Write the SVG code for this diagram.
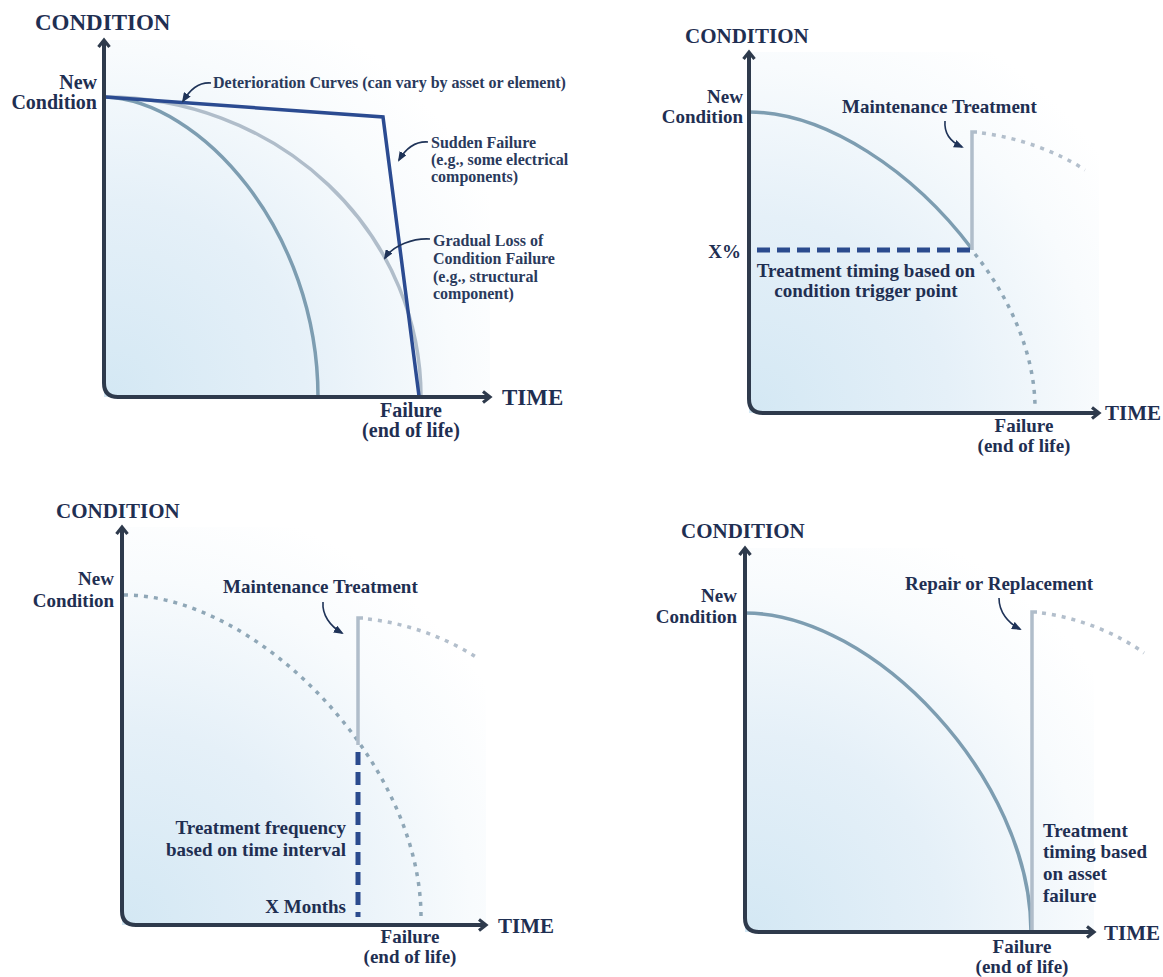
<svg xmlns="http://www.w3.org/2000/svg" width="1163" height="977" viewBox="0 0 1163 977">
  <defs>
    <style>
      text { font-family: 'Liberation Serif', 'Times New Roman', 'DejaVu Serif', serif; font-weight: bold; fill: #1f2f52; }
      .ttl { font-size: 21px; }
      .ttl1 { font-size: 23px; }
      .lbl { font-size: 19px; }
      .lbl1 { font-size: 20px; }
      .sm { font-size: 16px; fill: #2a3a5c; }
      .mid { text-anchor: middle; }
      .end { text-anchor: end; }
      .axis { fill: none; stroke: #2e3a4c; stroke-width: 4; marker-start: url(#chev); marker-end: url(#chev); }
      .curve { fill: none; stroke: #7d9db1; stroke-width: 3.5; }
      .light { fill: none; stroke: #b0bdca; stroke-width: 3.5; }
      .sudden { fill: none; stroke: #2b4b91; stroke-width: 3.5; stroke-linejoin: miter; }
      .dotted { fill: none; stroke: #8fa7b7; stroke-width: 3.5; stroke-dasharray: 4 6; }
      .dotted-l { fill: none; stroke: #b3bfcc; stroke-width: 3.5; stroke-dasharray: 4 6; }
      .trigger { fill: none; stroke: #2b4b8e; stroke-width: 5; stroke-dasharray: 13 7; }
      .lead { fill: none; stroke: #1f3358; stroke-width: 1.6; marker-end: url(#tri); }
    </style>
    <marker id="chev" viewBox="0 0 12 14" refX="9" refY="7" markerWidth="12" markerHeight="14" markerUnits="userSpaceOnUse" orient="auto-start-reverse">
      <path d="M2,1.5 L9,7 L2,12.5" fill="none" stroke="#2e3a4c" stroke-width="3.2"/>
    </marker>
    <marker id="tri" viewBox="0 0 10 8" refX="8" refY="4" markerWidth="10" markerHeight="8" markerUnits="userSpaceOnUse" orient="auto">
      <path d="M0,0 L10,4 L0,8 z" fill="#1f3358"/>
    </marker>
    <radialGradient id="g1" gradientUnits="userSpaceOnUse" cx="110" cy="395" r="430">
      <stop offset="0" stop-color="#d4e8f4"/>
      <stop offset="0.45" stop-color="#e5f0f8"/>
      <stop offset="0.8" stop-color="#f8fbfd"/>
      <stop offset="1" stop-color="#ffffff"/>
    </radialGradient>
    <radialGradient id="g2" gradientUnits="userSpaceOnUse" cx="755" cy="410" r="430">
      <stop offset="0" stop-color="#d4e8f4"/>
      <stop offset="0.45" stop-color="#e5f0f8"/>
      <stop offset="0.8" stop-color="#f8fbfd"/>
      <stop offset="1" stop-color="#ffffff"/>
    </radialGradient>
    <radialGradient id="g3" gradientUnits="userSpaceOnUse" cx="128" cy="922" r="430">
      <stop offset="0" stop-color="#d4e8f4"/>
      <stop offset="0.45" stop-color="#e5f0f8"/>
      <stop offset="0.8" stop-color="#f8fbfd"/>
      <stop offset="1" stop-color="#ffffff"/>
    </radialGradient>
    <radialGradient id="g4" gradientUnits="userSpaceOnUse" cx="751" cy="929" r="430">
      <stop offset="0" stop-color="#d4e8f4"/>
      <stop offset="0.45" stop-color="#e5f0f8"/>
      <stop offset="0.8" stop-color="#f8fbfd"/>
      <stop offset="1" stop-color="#ffffff"/>
    </radialGradient>
  </defs>

  <rect width="1163" height="977" fill="#ffffff"/>

  <g font-family="Liberation Serif, serif">
  <!-- Chart 1: deterioration curves -->
  <g id="chart-deterioration">
    <rect x="104" y="40" width="386" height="357" fill="url(#g1)"/>
    <path class="curve" d="M105,97 C200,100 318,230 318,397"/>
    <path class="light" d="M105,97 A316,300 0 0 1 421,397"/>
    <path class="sudden" d="M105,97 L383,117 L419,396"/>
    <path class="axis" d="M104,40 V383 Q104,397 118,397 H490"/>
    <text class="ttl1" x="35" y="30">CONDITION</text>
    <text class="lbl1 end" x="97" y="89">New</text>
    <text class="lbl1 end" x="97" y="109">Condition</text>
    <text class="ttl1" x="502" y="405">TIME</text>
    <text class="lbl1 mid" x="411" y="417">Failure</text>
    <text class="lbl1 mid" x="411" y="437">(end of life)</text>
  </g>
  <g id="label-deterioration">
    <text class="sm" x="213" y="88">Deterioration Curves (can vary by asset or element)</text>
  </g>
  <g id="label-sudden">
    <text class="sm" x="431" y="148">Sudden Failure</text>
    <text class="sm" x="431" y="165">(e.g., some electrical</text>
    <text class="sm" x="431" y="182">components)</text>
  </g>
  <g id="label-gradual">
    <text class="sm" x="433" y="246">Gradual Loss of</text>
    <text class="sm" x="433" y="264">Condition Failure</text>
    <text class="sm" x="433" y="282">(e.g., structural</text>
    <text class="sm" x="433" y="299">component)</text>
  </g>

  <!-- Chart 2: condition-based treatment -->
  <g id="chart-condition-trigger">
    <rect x="749" y="52" width="350" height="361" fill="url(#g2)"/>
    <path class="curve" d="M749,112 C826,112 914,172 972,249"/>
    <path class="dotted" d="M975,254 C1009,297 1035,353 1035,408"/>
    <path class="light" d="M972,250 V132 H977"/>
    <path class="dotted-l" d="M982,133 C1020,138 1058,152 1085,170"/>
    <path class="trigger" d="M757,250 H972"/>
    <path class="axis" d="M749,52 V399 Q749,413 763,413 H1099"/>
    <text class="ttl" x="685" y="43">CONDITION</text>
    <text class="lbl end" x="743" y="103">New</text>
    <text class="lbl end" x="743" y="123">Condition</text>
    <text class="lbl end" x="741" y="258">X%</text>
    <text class="lbl mid" x="866" y="277">Treatment timing based on</text>
    <text class="lbl mid" x="866" y="297">condition trigger point</text>
    <text class="lbl" x="842" y="113">Maintenance Treatment</text>
    <text class="ttl" x="1105" y="420">TIME</text>
    <text class="lbl mid" x="1024" y="432">Failure</text>
    <text class="lbl mid" x="1024" y="452">(end of life)</text>
  </g>

  <!-- Chart 3: time-based treatment -->
  <g id="chart-time-interval">
    <rect x="122" y="527" width="364" height="398" fill="url(#g3)"/>
    <path class="dotted" d="M124,595 C257,595 421,762 421,917"/>
    <path class="light" d="M358,745 V618 H363"/>
    <path class="dotted-l" d="M368,619 C405,623 445,637 476,657"/>
    <path class="trigger" d="M358,752 V917"/>
    <path class="axis" d="M122,527 V911 Q122,925 136,925 H486"/>
    <text class="ttl" x="56" y="518">CONDITION</text>
    <text class="lbl end" x="114" y="585">New</text>
    <text class="lbl end" x="114" y="607">Condition</text>
    <text class="lbl" x="223" y="593">Maintenance Treatment</text>
    <text class="lbl end" x="346" y="834">Treatment frequency</text>
    <text class="lbl end" x="346" y="856">based on time interval</text>
    <text class="lbl end" x="346" y="913">X Months</text>
    <text class="ttl" x="498" y="933">TIME</text>
    <text class="lbl mid" x="410" y="943">Failure</text>
    <text class="lbl mid" x="410" y="963">(end of life)</text>
  </g>

  <!-- Chart 4: run to failure -->
  <g id="chart-run-to-failure">
    <rect x="745" y="548" width="349" height="384" fill="url(#g4)"/>
    <path class="curve" d="M745,613 C874,613 1031,779 1031,932"/>
    <path class="light" d="M1032,932 V612 H1037"/>
    <path class="dotted-l" d="M1042,613 C1080,618 1118,634 1144,653"/>
    <path class="axis" d="M745,548 V918 Q745,932 759,932 H1094"/>
    <text class="ttl" x="681" y="538">CONDITION</text>
    <text class="lbl end" x="737" y="602">New</text>
    <text class="lbl end" x="737" y="623">Condition</text>
    <text class="lbl" x="905" y="590">Repair or Replacement</text>
    <text class="lbl" x="1043" y="837">Treatment</text>
    <text class="lbl" x="1043" y="858">timing based</text>
    <text class="lbl" x="1043" y="880">on asset</text>
    <text class="lbl" x="1043" y="902">failure</text>
    <text class="ttl" x="1104" y="940">TIME</text>
    <text class="lbl mid" x="1022" y="953">Failure</text>
    <text class="lbl mid" x="1022" y="973">(end of life)</text>
  </g>
  </g>

  <!-- leader arrows -->
  <g id="connectors">
    <path class="lead" d="M211,83 C198,82 190,90 183,101"/>
    <path class="lead" d="M428,142 C414,141 405,150 399,160"/>
    <path class="lead" d="M430,239 C414,238 393,245 385,258"/>
    <path class="lead" d="M945,121 C944,133 951,142 962,147"/>
    <path class="lead" d="M323,602 C322,615 330,626 342,633"/>
    <path class="lead" d="M999,598 C999,612 1008,623 1020,629"/>
  </g>
</svg>
